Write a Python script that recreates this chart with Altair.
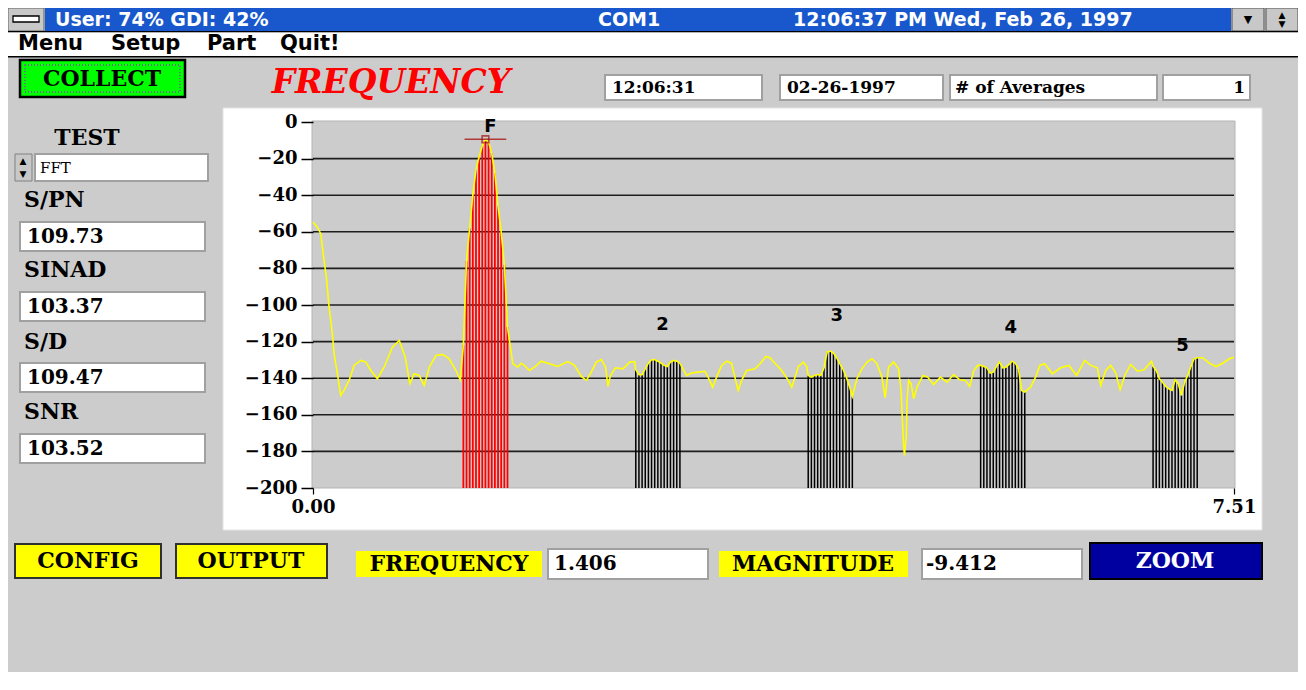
import altair as alt
import pandas as pd

# ---------------- spectrum data ----------------
FUNDAMENTAL = 1.406      # fundamental frequency (marker value)
PEAK_DB = -9.412         # marker magnitude
BIN_STEP = 0.0257        # FFT bin spacing

FUND_DB = [-122, -76, -58, -40, -26, -19, -13, -9.412, -11, -17, -28, -46, -60, -78, -112]
H2_DB = [-135.4, -138.1, -138.1, -134.9, -131.8, -129.9, -129.8, -130.7, -131.8, -133.0,
         -133.6, -131.2, -130.3, -130.7, -131.8]
H3_DB = [-138.5, -139.4, -138.5, -138.0, -138.5, -134.3, -125.8, -125.2, -126.2, -128.8,
         -132.0, -135.0, -139.0, -144.0, -150.0]
H4_DB = [-133.0, -133.6, -134.3, -137.2, -136.7, -133.6, -131.2, -134.3, -134.0, -132.5,
         -130.7, -131.8, -134.9, -146.7, -147.6]
H5_DB = [-133.6, -135.8, -140.3, -142.2, -144.5, -145.8, -146.7, -140.9, -143.0, -149.4,
         -142.2, -138.5, -133.6, -129.4, -128.8]

FLOOR_F = [0.000, 0.035, 0.063, 0.090, 0.109, 0.131, 0.158, 0.172, 0.199, 0.226, 0.253, 0.294,
           0.335, 0.390, 0.431, 0.472, 0.525, 0.580, 0.648, 0.703, 0.752, 0.790, 0.825, 0.866,
           0.907, 0.948, 1.003, 1.057, 1.111, 1.166, 1.201,
           1.629, 1.670, 1.697, 1.724, 1.765, 1.806, 1.861, 1.915, 1.996, 2.078, 2.133, 2.188,
           2.229, 2.269, 2.310, 2.351, 2.386, 2.405, 2.425, 2.468, 2.528, 2.582, 2.623,
           3.046, 3.087, 3.141, 3.195, 3.222, 3.258, 3.291, 3.332, 3.373, 3.413, 3.440, 3.467,
           3.495, 3.536, 3.604, 3.645, 3.694, 3.726, 3.767, 3.822, 3.876, 3.904, 3.931, 3.958,
           3.999, 4.026,
           4.435, 4.476, 4.517, 4.558, 4.598, 4.639, 4.666, 4.693, 4.734, 4.775, 4.795, 4.811,
           4.822, 4.838, 4.844, 4.857, 4.877, 4.898, 4.925, 4.974, 5.012, 5.061, 5.116, 5.170,
           5.224, 5.274, 5.320, 5.355, 5.388, 5.421,
           5.851, 5.892, 5.927, 5.966, 6.029, 6.096, 6.164, 6.227, 6.292, 6.341, 6.396, 6.423,
           6.464, 6.505, 6.546, 6.581, 6.619, 6.668, 6.723, 6.777, 6.838,
           7.254, 7.308, 7.363, 7.418, 7.472, 7.510]
FLOOR_DB = [-54.7, -57.5, -61.0, -75.7, -84.8, -101.0, -115.7, -126.7, -137.6, -149.4, -146.7, -141.2,
            -133.0, -130.3, -131.2, -135.8, -140.3, -134.0, -123.0, -119.4, -128.5, -143.0, -137.6, -138.5,
            -144.0, -134.0, -127.6, -127.0, -129.4, -135.8, -140.9,
            -132.0, -134.0, -131.8, -133.0, -135.8, -134.0, -130.7, -131.8, -133.6, -130.9, -133.0, -139.0,
            -141.2, -136.7, -131.2, -129.8, -134.0, -144.5, -138.5, -134.3, -134.9, -131.2, -130.9,
            -138.5, -137.2, -136.7, -136.2, -139.4, -144.9, -139.4, -133.0, -130.7, -131.8, -139.4, -146.7,
            -141.2, -135.8, -134.9, -132.1, -128.1, -128.8, -131.8, -135.8, -141.2, -144.9, -139.4, -133.6,
            -131.2, -133.6,
            -140.3, -134.9, -131.2, -129.4, -132.1, -139.4, -150.7, -134.0, -131.2, -134.9, -146.7, -170.4,
            -182.2, -171.3, -152.2, -141.2, -143.0, -151.2, -144.9, -138.5, -139.4, -143.4, -139.4, -142.2,
            -138.0, -140.9, -141.2, -144.5, -135.8, -133.0,
            -144.9, -139.4, -133.0, -132.1, -137.6, -134.3, -133.0, -138.5, -130.3, -133.0, -134.3, -144.0,
            -135.8, -133.0, -137.2, -146.3, -138.5, -132.5, -136.2, -135.4, -130.7,
            -128.8, -131.8, -133.6, -131.8, -129.4, -128.5]

GRID_DB = [-20, -40, -60, -80, -100, -120, -140, -160, -180]
Y_TICKS = [0, -20, -40, -60, -80, -100, -120, -140, -160, -180, -200]
X_TICKS = [0, 7.51]
X_MAX = 7.51
Y_MIN = -200

HARM_LABELS = ["2", "3", "4", "5"]
HARM_LABEL_F = [2.85, 4.27, 5.69, 7.09]
HARM_LABEL_DB = [-111, -106, -112.5, -122.5]

# ---------------- build tables ----------------
bar_rows = []
for k, vals in enumerate([FUND_DB, H2_DB, H3_DB, H4_DB, H5_DB], start=1):
    centre = k * FUNDAMENTAL
    half = (len(vals) - 1) // 2
    for i, v in enumerate(vals):
        bar_rows.append({"f": centre + (i - half) * BIN_STEP, "db": v,
                         "base": Y_MIN, "band": "fund" if k == 1 else "harm"})
bars = pd.DataFrame(bar_rows)
floor = pd.DataFrame({"f": FLOOR_F, "db": FLOOR_DB})
trace = pd.concat([floor, bars[["f", "db"]]]).sort_values("f").reset_index(drop=True)
grid = pd.DataFrame({"db": GRID_DB})
marker = pd.DataFrame({"f": [FUNDAMENTAL], "db": [PEAK_DB], "f1": [FUNDAMENTAL - 0.17],
                       "f2": [FUNDAMENTAL + 0.17], "lab": ["F"]})
harm = pd.DataFrame({"f": HARM_LABEL_F, "db": HARM_LABEL_DB, "lab": HARM_LABELS})

# ---------------- plot geometry (page pixels) ----------------
PLOT_X, PLOT_Y, PLOT_W, PLOT_H = 313, 122, 921, 366
CANVAS_W, CANVAS_H = 1290, 664
PAD = {"left": PLOT_X - 8, "top": PLOT_Y - 8,
       "right": CANVAS_W - (PLOT_X - 8) - PLOT_W,
       "bottom": CANVAS_H - (PLOT_Y - 8) - PLOT_H}

SERIF = "DejaVu Serif"
SANS = "DejaVu Sans"

xscale = alt.Scale(domain=[0, X_MAX], nice=False, zero=False)
yscale = alt.Scale(domain=[Y_MIN, 0], nice=False, zero=False)
xaxis = alt.Axis(values=X_TICKS, format=".2f", title=None, grid=False, domain=False,
                 tickSize=6, tickColor="black", tickWidth=1.2, labelFlush=False,
                 labelFont=SERIF, labelFontWeight="bold", labelFontSize=18,
                 labelColor="black", labelPadding=4, zindex=1)
yaxis = alt.Axis(values=Y_TICKS, format="d", title=None, grid=False, domain=False,
                 tickSize=12, tickColor="black", tickWidth=1.5, labelFlush=False,
                 labelFont=SERIF, labelFontWeight="bold", labelFontSize=18,
                 labelColor="black", labelPadding=4, zindex=1)


def X(field):
    return alt.X(field, type="quantitative", scale=xscale, axis=xaxis)


def Y(field):
    return alt.Y(field, type="quantitative", scale=yscale, axis=yaxis)


gridlines = alt.Chart(grid).mark_rule(color="#1e1e1e", strokeWidth=1.6).encode(y=Y("db"))
fund_bars = alt.Chart(bars[bars.band == "fund"]).mark_rule(color="#ff0000", strokeWidth=1.8).encode(
    x=X("f"), y=Y("db"), y2="base:Q")
harm_bars = alt.Chart(bars[bars.band == "harm"]).mark_rule(color="#000000", strokeWidth=1.5).encode(
    x=X("f"), y=Y("db"), y2="base:Q")
line = alt.Chart(trace).mark_line(color="#ffff00", strokeWidth=1.6).encode(x=X("f"), y=Y("db"))
mk_line = alt.Chart(marker).mark_rule(color="#b03a3a", strokeWidth=1.6).encode(
    x=X("f1"), x2="f2:Q", y=Y("db"))
mk_box = alt.Chart(marker).mark_square(size=45, filled=False, color="#a01010",
                                       strokeWidth=1.6).encode(x=X("f"), y=Y("db"))
mk_text = alt.Chart(marker).mark_text(font=SANS, fontWeight="bold", fontSize=18, color="black",
                                      baseline="bottom", dx=5, dy=-3).encode(
    x=X("f"), y=Y("db"), text="lab:N")
harm_text = alt.Chart(harm).mark_text(font=SANS, fontWeight="bold", fontSize=18,
                                      color="black", baseline="middle").encode(
    x=X("f"), y=Y("db"), text="lab:N")

spectrum = alt.layer(gridlines, fund_bars, harm_bars, line, mk_line, mk_box, mk_text, harm_text)

# ---------------- window decorations (page pixel layout) ----------------
RECTS = [
    # x1, y1, x2, y2, fill, stroke, strokeWidth
    (8, 8, 44, 31, "#c8c8c8", "#606060", 1),
    (13, 16, 39, 22, "#ffffff", "#000000", 1.3),
    (45, 8, 1231, 31, "#1858cc", "transparent", 0),
    (1232, 8, 1264, 31, "#c8c8c8", "#505050", 1),
    (1266, 8, 1298, 31, "#c8c8c8", "#505050", 1),
    (8, 31, 1298, 32.5, "#000000", "transparent", 0),
    (8, 32.5, 1298, 56, "#ffffff", "transparent", 0),
    (8, 56, 1298, 57.5, "#000000", "transparent", 0),
    (20, 60, 185, 97, "#00ff00", "#000000", 2.5),
    (605, 75, 762, 100, "#ffffff", "#a0a0a0", 2),
    (780, 75, 943, 100, "#ffffff", "#a0a0a0", 2),
    (950, 75, 1157, 100, "#ffffff", "#a0a0a0", 2),
    (1163, 75, 1250, 100, "#ffffff", "#a0a0a0", 2),
    (15, 154, 32, 181, "#c8c8c8", "#808080", 1),
    (35, 154, 208, 181, "#ffffff", "#a0a0a0", 2),
    (20, 222, 205, 251, "#ffffff", "#a0a0a0", 2),
    (20, 292, 205, 321, "#ffffff", "#a0a0a0", 2),
    (20, 363, 205, 392, "#ffffff", "#a0a0a0", 2),
    (20, 434, 205, 463, "#ffffff", "#a0a0a0", 2),
    (223, 108, 1262, 530, "#ffffff", "#e4e4e4", 1),
    (312, 121, 1235, 488, "#cccccc", "#b4b4b4", 1),
    (15, 544, 161, 578, "#ffff00", "#303030", 2),
    (176, 544, 327, 578, "#ffff00", "#303030", 2),
    (356, 551, 542, 577, "#ffff00", "transparent", 0),
    (548, 549, 708, 579, "#ffffff", "#a0a0a0", 2),
    (719, 551, 908, 577, "#ffff00", "transparent", 0),
    (922, 549, 1082, 579, "#ffffff", "#a0a0a0", 2),
    (1090, 543, 1262, 579, "#0000a0", "#000000", 2),
]

rect_df = pd.DataFrame([{"x1": r[0] - PLOT_X, "x2": r[2] - PLOT_X, "y1": r[1] - PLOT_Y,
                         "y2": r[3] - PLOT_Y, "fill": r[4], "stroke": r[5], "sw": r[6]}
                        for r in RECTS])
ui_rects = alt.Chart(rect_df).mark_rect().encode(
    x=alt.X("x1:Q", scale=None, axis=None), x2="x2:Q",
    y=alt.Y("y1:Q", scale=None, axis=None), y2="y2:Q",
    fill=alt.Fill("fill:N", scale=None, legend=None),
    stroke=alt.Stroke("stroke:N", scale=None, legend=None),
    strokeWidth=alt.StrokeWidth("sw:Q", scale=None, legend=None))

focus_df = pd.DataFrame([{"x1": 25 - PLOT_X, "x2": 180 - PLOT_X, "y1": 65 - PLOT_Y, "y2": 92 - PLOT_Y}])
focus = alt.Chart(focus_df).mark_rect(fill="transparent", stroke="#9040b0", strokeWidth=1.5,
                                      strokeDash=[1, 2]).encode(
    x=alt.X("x1:Q", scale=None, axis=None), x2="x2:Q",
    y=alt.Y("y1:Q", scale=None, axis=None), y2="y2:Q")


def texts(rows, font, size, weight="bold", style="normal", color="black", align="left"):
    df = pd.DataFrame([{"x": x - PLOT_X, "y": y - PLOT_Y, "t": t} for (t, x, y) in rows])
    return alt.Chart(df).mark_text(font=font, fontSize=size, fontWeight=weight, fontStyle=style,
                                   color=color, align=align, baseline="middle").encode(
        x=alt.X("x:Q", scale=None, axis=None), y=alt.Y("y:Q", scale=None, axis=None), text="t:N")


text_layers = [
    texts([("User: 74% GDI: 42%", 55, 20), ("COM1", 598, 20),
           ("12:06:37 PM  Wed, Feb 26, 1997", 793, 20)], SANS, 19, color="white"),
    texts([("Menu", 18, 44), ("Setup", 111, 44), ("Part", 207, 44), ("Quit!", 280, 44)], SANS, 21),
    texts([("S/PN", 24, 200), ("SINAD", 24, 270), ("S/D", 24, 342), ("SNR", 24, 412)], SERIF, 22),
    texts([("TEST", 87, 138), ("COLLECT", 102, 79), ("CONFIG", 88, 561), ("OUTPUT", 251, 561),
           ("FREQUENCY", 449, 564), ("MAGNITUDE", 813, 564)], SERIF, 22, align="center"),
    texts([("ZOOM", 1175, 561)], SERIF, 22, color="white", align="center"),
    texts([("FREQUENCY", 391, 83)], SERIF, 33, style="italic", color="#ff0000", align="center"),
    texts([("12:06:31", 612, 88), ("02-26-1997", 787, 88), ("# of Averages", 955, 88)], SERIF, 17),
    texts([("1", 1245, 88)], SERIF, 17, align="right"),
    texts([("FFT", 40, 168)], SERIF, 15, weight="normal"),
    texts([("109.73", 27, 237), ("103.37", 27, 307), ("109.47", 27, 378), ("103.52", 27, 449),
           ("1.406", 554, 564), ("-9.412", 926, 564)], SERIF, 20),
    texts([("▲", 23, 161), ("▼", 23, 174), ("▲", 1282, 15), ("▼", 1282, 24)], SANS, 9,
          weight="normal", align="center"),
    texts([("▼", 1248, 20)], SANS, 11, weight="normal", align="center"),
]

chart = alt.layer(ui_rects, focus, spectrum, *text_layers).resolve_scale(
    x="independent", y="independent"
).properties(
    width=PLOT_W, height=PLOT_H,
    autosize=alt.AutoSizeParams(type="none"),
    padding=PAD,
    background="#cccccc",
).configure_view(strokeWidth=0)

chart.save("out.html", embed_options={"renderer": "svg", "actions": False})
